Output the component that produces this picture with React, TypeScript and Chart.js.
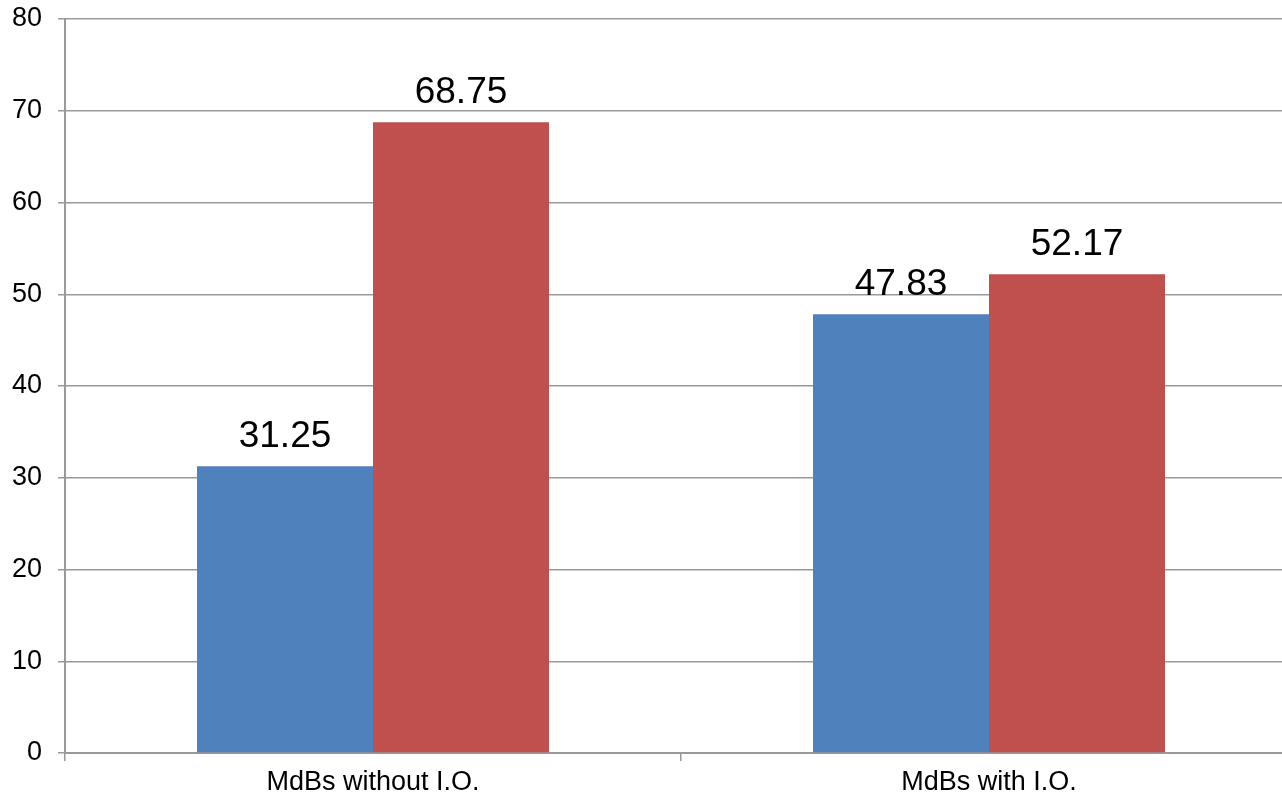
import React, { useEffect, useRef } from "react";
import { Chart, registerables } from "chart.js";

Chart.register(...registerables);

const categories = ["MdBs without I.O.", "MdBs with I.O."];
const seriesA = [31.25, 47.83];
const seriesB = [68.75, 52.17];
const yTicks = [0, 10, 20, 30, 40, 50, 60, 70, 80];

const FONT = "'Liberation Sans', Arial, sans-serif";

const valueLabels = {
  id: "valueLabels",
  afterDatasetsDraw(chart: any) {
    const ctx = chart.ctx;
    ctx.save();
    ctx.font = `37px ${FONT}`;
    ctx.fillStyle = "#000";
    ctx.textAlign = "center";
    ctx.textBaseline = "alphabetic";
    chart.data.datasets.forEach((ds: any, i: number) => {
      const meta = chart.getDatasetMeta(i);
      meta.data.forEach((bar: any, j: number) => {
        ctx.fillText(String(ds.data[j]), bar.x, bar.y - 19);
      });
    });
    ctx.restore();
  },
};

export default function App() {
  const ref = useRef<HTMLCanvasElement>(null);
  useEffect(() => {
    document.body.style.margin = "0";
    const chart = new Chart(ref.current!, {
      type: "bar",
      data: {
        labels: categories,
        datasets: [
          { data: seriesA, backgroundColor: "#4F81BD", borderWidth: 0 },
          { data: seriesB, backgroundColor: "#C0504D", borderWidth: 0 },
        ],
      },
      options: {
        animation: false,
        responsive: false,
        devicePixelRatio: 1,
        layout: { padding: { top: 19, left: 0, right: 0, bottom: 0 } },
        plugins: { legend: { display: false }, tooltip: { enabled: false } },
        datasets: { bar: { categoryPercentage: 0.5714, barPercentage: 1 } },
        scales: {
          x: {
            grid: {
              offset: true,
              drawOnChartArea: false,
              drawTicks: true,
              tickLength: 8,
              color: "#999",
              lineWidth: 1.5,
            },
            border: { color: "#999", width: 2 },
            ticks: { font: { family: FONT, size: 27 }, color: "#000", padding: 5, maxRotation: 0 },
            afterFit: (s: any) => { s.height = 44; },
          },
          y: {
            min: 0,
            max: 80,
            afterBuildTicks: (s: any) => { s.ticks = yTicks.map((v) => ({ value: v })); },
            grid: { color: "#999", lineWidth: 1.5, tickLength: 7, drawTicks: true },
            border: { color: "#999", width: 2 },
            ticks: { font: { family: FONT, size: 27 }, color: "#000", padding: 16 },
            afterFit: (s: any) => {
              s.width = 65;
              s.paddingTop = 0;
              s.paddingBottom = 0;
            },
          },
        },
      },
      plugins: [valueLabels],
    });
    return () => chart.destroy();
  }, []);
  return (
    <div style={{ position: "absolute", left: 0, top: 0, width: 1282, height: 797, overflow: "hidden" }}>
      <canvas ref={ref} width={1297} height={797} style={{ width: 1297, height: 797, display: "block" }} />
    </div>
  );
}
